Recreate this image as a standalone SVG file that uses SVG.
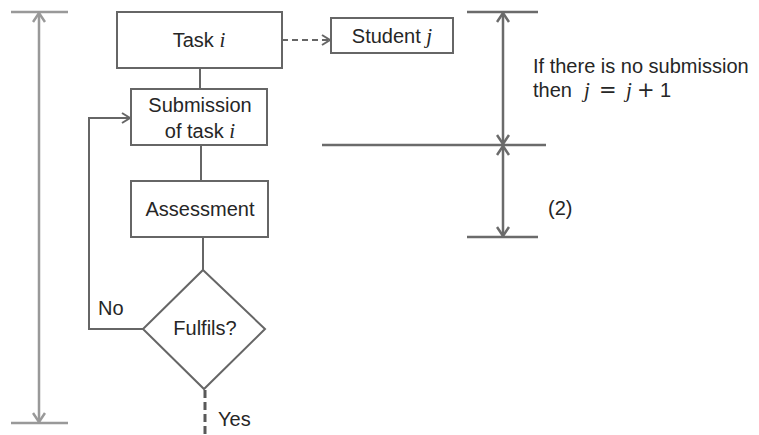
<svg xmlns="http://www.w3.org/2000/svg" width="759" height="435" viewBox="0 0 759 435">
<defs>
<style>
.box{fill:#fff;stroke:#666;stroke-width:2}
.ln{fill:none;stroke:#666;stroke-width:2}
.dim{fill:none;stroke:#6b6b6b;stroke-width:2.5}
.dimL{fill:none;stroke:#999;stroke-width:2.5}
.t{font-family:"Liberation Sans",Arial,sans-serif;font-size:20px;fill:#262626}
.m{font-family:"Liberation Serif","Times New Roman",serif;font-style:italic;font-size:21px}
.op{font-family:"DejaVu Sans",sans-serif;font-size:21px}
</style>
<marker id="open" viewBox="0 0 12 12" refX="10" refY="6" markerWidth="12" markerHeight="12" markerUnits="userSpaceOnUse" orient="auto-start-reverse">
<path d="M2,1 L10,6 L2,11" fill="none" stroke="#666" stroke-width="2"/>
</marker>
<marker id="dimA" viewBox="0 0 14 14" refX="12" refY="7" markerWidth="14" markerHeight="14" markerUnits="userSpaceOnUse" orient="auto-start-reverse">
<path d="M3,1 L12,7 L3,13" fill="none" stroke="#6b6b6b" stroke-width="2.5"/>
</marker>
<marker id="dimAL" viewBox="0 0 14 14" refX="12" refY="7" markerWidth="14" markerHeight="14" markerUnits="userSpaceOnUse" orient="auto-start-reverse">
<path d="M3,1 L12,7 L3,13" fill="none" stroke="#999" stroke-width="2.5"/>
</marker>
</defs>
<rect width="759" height="435" fill="#fff"/>

<g id="dimensions">
<line class="dimL" x1="11" y1="12" x2="68" y2="12"/>
<line class="dimL" x1="11" y1="423" x2="68" y2="423"/>
<line class="dimL" x1="39" y1="13" x2="39" y2="422" marker-start="url(#dimAL)" marker-end="url(#dimAL)"/>
<line class="dim" x1="467" y1="12" x2="538" y2="12"/>
<line class="dim" x1="322" y1="145" x2="546" y2="145"/>
<line class="dim" x1="467" y1="237" x2="538" y2="237"/>
<line class="dim" x1="503" y1="13" x2="503" y2="144" marker-start="url(#dimA)" marker-end="url(#dimA)"/>
<line class="dim" x1="503" y1="146" x2="503" y2="236" marker-start="url(#dimA)" marker-end="url(#dimA)"/>
</g>

<g id="connectors">
<line class="ln" x1="200" y1="68" x2="200" y2="89"/>
<line class="ln" x1="201" y1="145" x2="201" y2="181"/>
<line class="ln" x1="203" y1="237" x2="203" y2="270"/>
<polyline class="ln" points="143,329 89,329 89,118 130,118" marker-end="url(#open)"/>
<line class="ln" x1="282" y1="40" x2="330" y2="40" stroke-dasharray="6,4" marker-end="url(#open)"/>
<line x1="205" y1="390" x2="205" y2="435" stroke="#595959" stroke-width="3" stroke-dasharray="8,4"/>
</g>

<g id="task">
<rect class="box" x="117" y="12" width="165" height="56"/>
<text class="t" x="199" y="47" text-anchor="middle">Task <tspan class="m">i</tspan></text>
</g>
<g id="student">
<rect class="box" x="331" y="18" width="122" height="35"/>
<text class="t" x="392" y="43" text-anchor="middle">Student <tspan class="m">j</tspan></text>
</g>
<g id="submission">
<rect class="box" x="131" y="89" width="136" height="56"/>
<text class="t" x="200" y="112" text-anchor="middle">Submission</text>
<text class="t" x="200" y="138" text-anchor="middle">of task <tspan class="m">i</tspan></text>
</g>
<g id="assessment">
<rect class="box" x="131" y="181" width="137" height="56"/>
<text class="t" x="200" y="216" text-anchor="middle">Assessment</text>
</g>
<g id="fulfils">
<polygon class="box" points="203,270 265,329 204,389 143,329"/>
<text class="t" x="205" y="335" text-anchor="middle">Fulfils?</text>
</g>

<g id="labels">
<text class="t" x="98" y="315">No</text>
<text class="t" x="218" y="426">Yes</text>
<text class="t" x="533" y="73">If there is no submission</text>
<text class="t" y="97"><tspan x="533">then</tspan><tspan class="m" x="584">j</tspan><tspan class="op" x="599">=</tspan><tspan class="m" x="626">j</tspan><tspan class="op" x="637">+</tspan><tspan x="660">1</tspan></text>
<text class="t" x="548" y="215">(2)</text>
</g>
</svg>
